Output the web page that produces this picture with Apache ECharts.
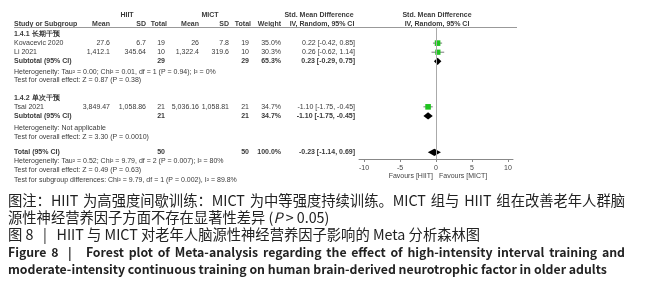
<!DOCTYPE html>
<html>
<head>
<meta charset="utf-8">
<script src="https://cdn.jsdelivr.net/npm/echarts@6/dist/echarts.min.js"></script>
<style>
html,body{margin:0;padding:0;background:#fff;}
#chart{width:655px;height:300px;}
</style>
</head>
<body>
<div id="chart"></div>
<script>
// 研究数据
var studyNames = ['Kovacevic 2020', 'Li 2021', 'Tsai 2021'];
var hiitMean = ['27.6', '1,412.1', '3,849.47'];
var hiitSD = ['6.7', '345.64', '1,058.86'];
var hiitN = [19, 10, 21];
var mictMean = ['26', '1,322.4', '5,036.16'];
var mictSD = ['7.8', '319.6', '1,058.81'];
var mictN = [19, 10, 21];
var weights = [35.0, 30.3, 34.7];
var smd = [0.22, 0.26, -1.10];
var ciLow = [-0.42, -0.62, -1.75];
var ciHigh = [0.85, 1.14, -0.45];
// 合并结果: subtotal 1, subtotal 2, total
var poolNames = ['Subtotal (95% CI)', 'Subtotal (95% CI)', 'Total (95% CI)'];
var poolHiitN = [29, 21, 50];
var poolMictN = [29, 21, 50];
var poolWeights = [65.3, 34.7, 100.0];
var poolSmd = [0.23, -1.10, -0.23];
var poolLow = [-0.29, -1.75, -1.14];
var poolHigh = [0.75, -0.45, 0.69];
var xTicks = [-10, -5, 0, 5, 10];
var groupLabels = ['1.4.1 长期干预', '1.4.2 单次干预'];
var notes = [
    'Heterogeneity: Tau² = 0.00; Chi² = 0.01, df = 1 (P = 0.94); I² = 0%',
    'Test for overall effect: Z = 0.87 (P = 0.38)',
    'Heterogeneity: Not applicable',
    'Test for overall effect: Z = 3.30 (P = 0.0010)',
    'Heterogeneity: Tau² = 0.52; Chi² = 9.79, df = 2 (P = 0.007); I² = 80%',
    'Test for overall effect: Z = 0.49 (P = 0.63)',
    'Test for subgroup differences: Chi² = 9.79, df = 1 (P = 0.002), I² = 89.8%'
];
// 行号
var studyRows = [1, 2, 8];
var poolRows = [3, 9, 13];
var groupRows = [0, 7];
var noteRows = [4.2, 5.1, 10.3, 11.3, 14, 15, 16];

var chart = echarts.init(document.getElementById('chart'));
var tFam = '"Liberation Sans", Arial, sans-serif';
var tFont = '7px ' + tFam;
var tBold = 'bold 7px ' + tFam;
var tColor = '#3a3a3a';

function fmtCI(v, l, h) {
    return v.toFixed(2) + ' [' + l.toFixed(2) + ', ' + h.toFixed(2) + ']';
}

var option = {
    animation: false,
    grid: {left: 359, right: 142, top: 27, bottom: 141},
    xAxis: {
        type: 'value', min: -10.7, max: 10.7,
        axisLine: {show: true, onZero: false, lineStyle: {color: '#888', width: 1}},
        axisTick: {show: true, length: 3, customValues: xTicks, lineStyle: {color: '#888'}},
        axisLabel: {customValues: xTicks, fontSize: 7, color: '#444', margin: 6, fontFamily: tFam},
        splitLine: {show: false}
    },
    yAxis: {
        type: 'value', inverse: true, min: -0.77, max: 13.73,
        axisLine: {show: false},
        axisTick: {show: false}, axisLabel: {show: false}, splitLine: {show: false}
    },
    series: [
        {
            type: 'custom',
            data: smd.map(function (v, i) { return [v, studyRows[i], ciLow[i], ciHigh[i], weights[i]]; }),
            markLine: {
                silent: true, symbol: 'none', label: {show: false},
                lineStyle: {color: '#aaa', width: 1, type: 'solid'},
                data: [{xAxis: 0}]
            },
            renderItem: function (params, api) {
                var c = api.coord([api.value(0), api.value(1)]);
                var l = api.coord([api.value(2), api.value(1)]);
                var h = api.coord([api.value(3), api.value(1)]);
                var s = Math.sqrt(api.value(4)) * 0.95;
                return {type: 'group', children: [
                    {type: 'line', shape: {x1: l[0], y1: c[1], x2: h[0], y2: c[1]},
                        style: {stroke: '#555', lineWidth: 0.8}},
                    {type: 'rect', shape: {x: c[0] - s / 2, y: c[1] - s / 2, width: s, height: s},
                        style: {fill: '#1fc41f'}}
                ]};
            }
        },
        {
            type: 'custom',
            data: poolSmd.map(function (v, i) { return [v, poolRows[i], poolLow[i], poolHigh[i]]; }),
            renderItem: function (params, api) {
                var c = api.coord([api.value(0), api.value(1)]);
                var l = api.coord([api.value(2), api.value(1)]);
                var h = api.coord([api.value(3), api.value(1)]);
                var d = 3.6;
                return {type: 'polygon', shape: {points: [[l[0], c[1]], [c[0], c[1] - d], [h[0], c[1]], [c[0], c[1] + d]]},
                    style: {fill: '#000'}};
            }
        }
    ]
};
chart.setOption(option);

function rowY(r) { return chart.convertToPixel({gridIndex: 0}, [0, r])[1]; }
var els = [];
function txt(s, x, y, align, font, color) {
    els.push({type: 'text', silent: true, style: {text: s, x: x, y: y, font: font || tFont,
        fill: color || tColor, align: align || 'left', textAlign: align || 'left',
        verticalAlign: 'middle', textVerticalAlign: 'middle'}});
}
// 表头
txt('HIIT', 127, 15, 'center', tBold);
txt('MICT', 210, 15, 'center', tBold);
txt('Std. Mean Difference', 319, 15, 'center', tBold);
txt('Std. Mean Difference', 437, 15, 'center', tBold);
txt('Study or Subgroup', 14, 24, 'left', tBold);
txt('Mean', 110, 24, 'right', tBold);
txt('SD', 146, 24, 'right', tBold);
txt('Total', 167, 24, 'right', tBold);
txt('Mean', 199, 24, 'right', tBold);
txt('SD', 229, 24, 'right', tBold);
txt('Total', 251, 24, 'right', tBold);
txt('Weight', 281, 24, 'right', tBold);
txt('IV, Random, 95% CI', 322, 24, 'center', tBold);
txt('IV, Random, 95% CI', 437, 24, 'center', tBold);
els.push({type: 'line', silent: true, shape: {x1: 14, y1: 27.5, x2: 517, y2: 27.5},
    style: {stroke: '#999', lineWidth: 1}});

groupLabels.forEach(function (g, i) { txt(g, 14, rowY(groupRows[i]), 'left', tBold); });
studyNames.forEach(function (n, i) {
    var y = rowY(studyRows[i]);
    txt(n, 14, y);
    txt(hiitMean[i], 110, y, 'right');
    txt(hiitSD[i], 146, y, 'right');
    txt(String(hiitN[i]), 165, y, 'right');
    txt(mictMean[i], 199, y, 'right');
    txt(mictSD[i], 229, y, 'right');
    txt(String(mictN[i]), 249, y, 'right');
    txt(weights[i].toFixed(1) + '%', 281, y, 'right');
    txt(fmtCI(smd[i], ciLow[i], ciHigh[i]), 355, y, 'right');
});
poolNames.forEach(function (n, i) {
    var y = rowY(poolRows[i]);
    txt(n, 14, y, 'left', tBold);
    txt(String(poolHiitN[i]), 165, y, 'right', tBold);
    txt(String(poolMictN[i]), 249, y, 'right', tBold);
    txt(poolWeights[i].toFixed(1) + '%', 281, y, 'right', tBold);
    txt(fmtCI(poolSmd[i], poolLow[i], poolHigh[i]), 355, y, 'right', tBold);
});
notes.forEach(function (n, i) { txt(n, 14, rowY(noteRows[i])); });
txt('Favours [HIIT]', 433, 176, 'right', tFont, '#444');
txt('Favours [MICT]', 439, 176, 'left', tFont, '#444');

// 图注
var cjk = '"Noto Sans CJK SC", "Noto Sans", sans-serif';
var capColor = '#222';
var capLeft = 8, capRight = 625;
var mctx = document.createElement('canvas').getContext('2d');
// 两端对齐: 按空格拆开，平均分配空隙
function justify(s, y, font) {
    var words = s.split(' ');
    mctx.font = font;
    var total = 0;
    words.forEach(function (w) { total += mctx.measureText(w).width; });
    var gap = (capRight - capLeft - total) / (words.length - 1);
    var x = capLeft;
    words.forEach(function (w) {
        els.push({type: 'text', silent: true, style: {text: w, x: x, y: y, font: font, fill: capColor,
            verticalAlign: 'middle', textVerticalAlign: 'middle'}});
        x += mctx.measureText(w).width + gap;
    });
}
var cnFont = '14.3px ' + cjk;
var enBold = 'bold 12.3px ' + cjk;
justify('图注：HIIT 为高强度间歇训练：MICT 为中等强度持续训练。MICT 组与 HIIT 组在改善老年人群脑', 201, cnFont);
els.push({type: 'text', silent: true, style: {
    text: '源性神经营养因子方面不存在显著性差异 ({i|P} > 0.05)',
    x: capLeft, y: 218, font: cnFont, fill: capColor, verticalAlign: 'middle', textVerticalAlign: 'middle',
    rich: {i: {fontStyle: 'italic', fontSize: 14.3, fontFamily: cjk, fill: capColor, color: capColor}}}});
els.push({type: 'text', silent: true, style: {
    text: '图 8   |   HIIT 与 MICT 对老年人脑源性神经营养因子影响的 Meta 分析森林图',
    x: capLeft, y: 235, font: cnFont, fill: capColor, verticalAlign: 'middle', textVerticalAlign: 'middle'}});
justify('Figure 8  |   Forest plot of Meta-analysis regarding the effect of high-intensity interval training and', 252, enBold);
els.push({type: 'text', silent: true, style: {
    text: 'moderate-intensity continuous training on human brain-derived neurotrophic factor in older adults',
    x: capLeft, y: 269, font: enBold, fill: capColor, verticalAlign: 'middle', textVerticalAlign: 'middle'}});

chart.setOption({graphic: {elements: els}});
</script>
</body>
</html>
